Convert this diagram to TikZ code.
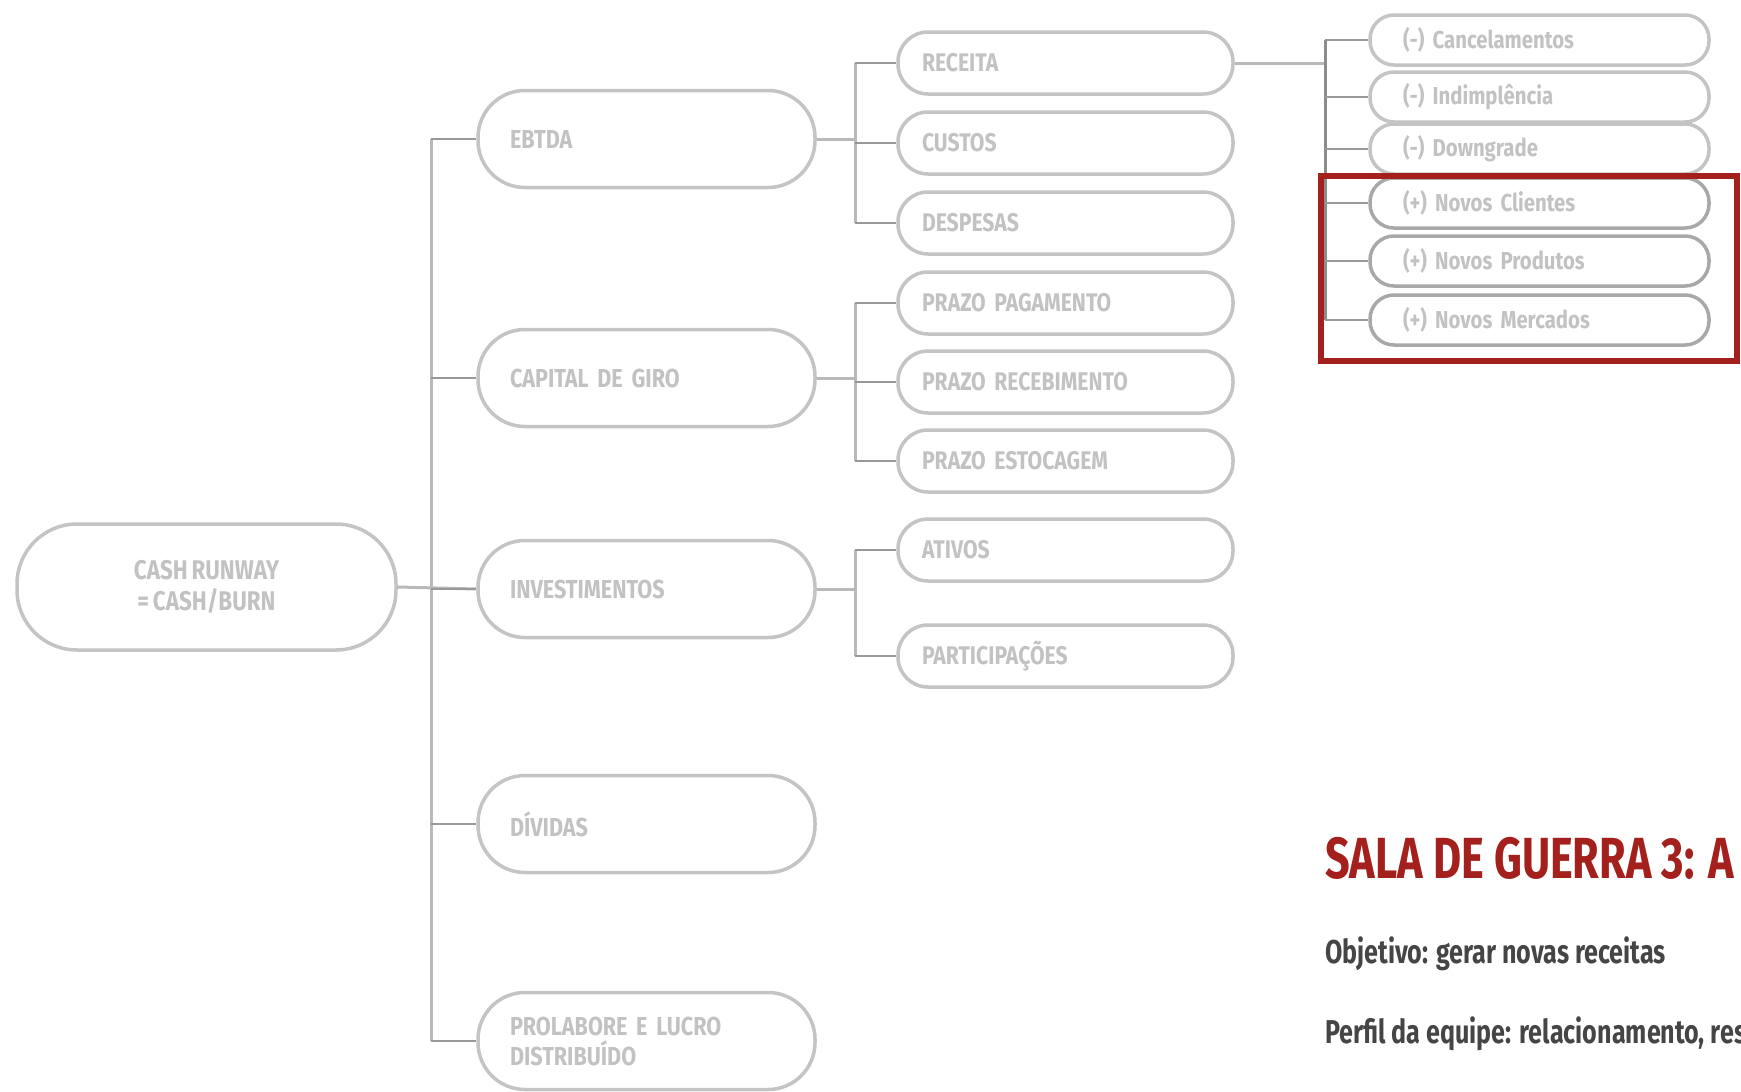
\documentclass[tikz,border=0pt]{standalone}
\usepackage{fontspec}
\newfontfamily\nodefont[FakeStretch=0.83, WordSpace=0.75]{Fira Sans}
\newfontfamily\headfont[FakeStretch=0.745]{Fira Sans}
\newfontfamily\notefont[FakeStretch=0.76]{Fira Sans}
\definecolor{linegray}{HTML}{B9B9B9}
\definecolor{boxgray}{HTML}{C4C4C4}
\definecolor{boxdark}{HTML}{A8A8A8}
\definecolor{txtgray}{HTML}{C2C2C2}
\definecolor{warred}{HTML}{A3201C}
\definecolor{darktxt}{HTML}{454545}
\tikzset{
  pill/.style={draw=boxgray, line width=3.5pt, fill=white, rectangle,
    inner sep=0pt, font=\nodefont\bfseries\fontsize{26}{30}\selectfont, text=txtgray},
  rootbox/.style={pill, minimum width=379pt, minimum height=126pt,
    rounded corners=60pt, align=center, font=\nodefont\bfseries\fontsize{27}{31}\selectfont},
  lvlone/.style={pill, minimum height=97pt, text width=273pt, inner xsep=32pt,
    rounded corners=47pt, align=left},
  lvltwo/.style={pill, minimum height=62pt, text width=287pt, inner xsep=24pt,
    rounded corners=30pt, align=left, font=\nodefont\bfseries\fontsize{25.5}{28}\selectfont},
  lvlthree/.style={pill, minimum height=50pt, text width=273pt, inner xsep=33pt,
    rounded corners=24pt, align=left, font=\nodefont\bfseries\fontsize{24.5}{27}\selectfont},
  hot/.style={draw=boxdark},
  conn/.style={draw=linegray, line width=3pt},
  stub/.style={draw=black!40, line width=2.5pt}
}
\begin{document}
\begin{tikzpicture}[x=1pt, y=-1pt]
\useasboundingbox[fill=white] (0,0) rectangle (1741,1092);

% tree levels
\node[rootbox] (cash) at (206.5,587) {CASH RUNWAY\\= CASH/BURN};

\node[lvlone] (ebtda) at (646.5,139)  {EBTDA};
\node[lvlone] (capg)  at (646.5,378)  {CAPITAL DE GIRO};
\node[lvlone] (inv)   at (646.5,589)  {INVESTIMENTOS};
\node[lvlone] (div)   at (646.5,824)  {DÍVIDAS};
\node[lvlone] (prol)  at (646.5,1041) {PROLABORE E LUCRO\\DISTRIBUÍDO};

\node[lvltwo] (rec)  at (1065.5,63)  {RECEITA};
\node[lvltwo] (cus)  at (1065.5,143) {CUSTOS};
\node[lvltwo] (desp) at (1065.5,223) {DESPESAS};
\node[lvltwo] (ppag) at (1065.5,303) {PRAZO PAGAMENTO};
\node[lvltwo] (prec) at (1065.5,382) {PRAZO RECEBIMENTO};
\node[lvltwo] (pest) at (1065.5,461) {PRAZO ESTOCAGEM};
\node[lvltwo] (ativ) at (1065.5,550) {ATIVOS};
\node[lvltwo] (part) at (1065.5,656) {PARTICIPAÇÕES};

\node[lvlthree] (canc) at (1539.5,40)  {(-) Cancelamentos};
\node[lvlthree] (indi) at (1539.5,97)  {(-) Indimplência};
\node[lvlthree] (down) at (1539.5,149) {(-) Downgrade};
\node[lvlthree,hot] (ncli) at (1539.5,203) {(+) Novos Clientes};
\node[lvlthree,hot] (nprod) at (1539.5,261) {(+) Novos Produtos};
\node[lvlthree,hot] (nmerc) at (1539.5,320) {(+) Novos Mercados};

% bracket positions
\coordinate (trunk) at (431,0);
\coordinate (brA) at (855,0);
\coordinate (brB) at (1325,0);

% root trunk
\draw[conn] (cash.east) -- (inv.west);
\draw[conn] (trunk |- ebtda.west) -- (trunk |- prol.west);
\foreach \n in {ebtda,capg,inv,div,prol}
  \draw[stub] (trunk |- \n.west) -- (\n.west);

% second level brackets
\draw[conn] (ebtda.east) -- (brA |- ebtda.east);
\draw[conn] (brA |- rec.west) -- (brA |- desp.west);
\foreach \n in {rec,cus,desp}
  \draw[stub] (brA |- \n.west) -- (\n.west);

\draw[conn] (capg.east) -- (brA |- capg.east);
\draw[conn] (brA |- ppag.west) -- (brA |- pest.west);
\foreach \n in {ppag,prec,pest}
  \draw[stub] (brA |- \n.west) -- (\n.west);

\draw[conn] (inv.east) -- (brA |- inv.east);
\draw[conn] (brA |- ativ.west) -- (brA |- part.west);
\foreach \n in {ativ,part}
  \draw[stub] (brA |- \n.west) -- (\n.west);

% revenue breakdown
\draw[conn] (rec.east) -- (brB |- rec.east);
\draw[conn, draw=black!45] (brB |- canc.west) -- (brB |- nmerc.west);
\foreach \n in {canc,indi,down,ncli,nprod,nmerc}
  \draw[stub] (brB |- \n.west) -- (\n.west);

% highlight frame
\draw[draw=warred, line width=6.5pt] (1321,176) rectangle (1737,361);

% heading and notes
\node[anchor=base west, inner sep=0pt, text=warred,
  font=\headfont\bfseries\fontsize{58}{60}\selectfont] (title) at (1325,878)
  {SALA DE GUERRA 3: A};
\node[anchor=base west, inner sep=0pt, text=darktxt,
  font=\notefont\bfseries\fontsize{33}{36}\selectfont] (goal) at (1325,963)
  {Objetivo: gerar novas receitas};
\node[anchor=base west, inner sep=0pt, text=darktxt,
  font=\notefont\bfseries\fontsize{33}{36}\selectfont] (team) at (1325,1043)
  {Perfil da equipe: relacionamento, res};
\end{tikzpicture}
\end{document}
